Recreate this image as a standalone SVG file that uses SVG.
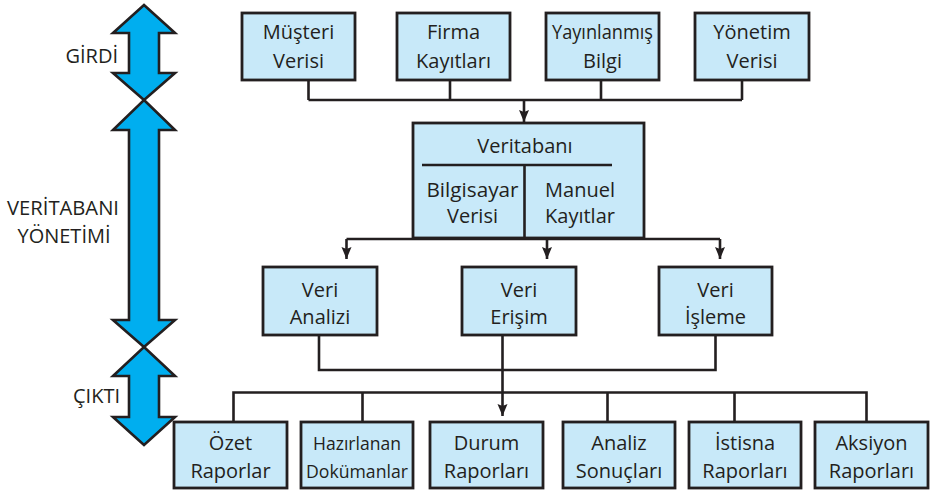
<svg xmlns="http://www.w3.org/2000/svg" width="939" height="495" viewBox="0 0 939 495">
<defs>
<style>
.box{fill:#c8e9f9;stroke:#231f20;stroke-width:2.8}
.t{font-family:"Open Sans","Noto Sans","DejaVu Sans",sans-serif;font-size:20px;fill:#231f20;text-anchor:middle}
.s{font-size:18px}
.lbl{font-family:"Open Sans","Noto Sans","DejaVu Sans",sans-serif;font-size:20px;fill:#231f20}
.c{fill:none;stroke:#231f20;stroke-width:2.6}
.ba{fill:#00aeef;stroke:#231f20;stroke-width:2.6;stroke-linejoin:miter}
</style>
<marker id="ah" markerUnits="userSpaceOnUse" markerWidth="14" markerHeight="12" refX="12" refY="5" orient="auto">
<path d="M0,0 L12,5 L0,10 L2,5 z" fill="#231f20"/>
</marker>
</defs>

<g id="side-arrows">
<path class="ba" d="M144,5 L175,33 L159,33 L159,73 L175,73 L144,100 L113,73 L129,73 L129,33 L113,33 Z"/>
<path class="ba" d="M144,100 L175,130 L159,130 L159,320 L175,320 L144,347 L113,320 L129,320 L129,130 L113,130 Z"/>
<path class="ba" d="M144,347 L175,376 L159,376 L159,417 L175,417 L144,445 L113,417 L129,417 L129,376 L113,376 Z"/>
</g>

<g id="side-labels">
<text class="lbl" x="118" y="63" text-anchor="end">GİRDİ</text>
<text class="lbl" x="63" y="215" text-anchor="middle" textLength="112" lengthAdjust="spacingAndGlyphs">VERİTABANI</text>
<text class="lbl" x="64" y="243" text-anchor="middle">YÖNETİMİ</text>
<text class="lbl" x="120" y="403" text-anchor="end">ÇIKTI</text>
</g>

<g id="connectors">
<path class="c" d="M308.5,80 V100 M450,80 V100 M601,80 V100 M742,80 V100 M308.5,100 H742"/>
<path class="c" d="M524,100 V122" marker-end="url(#ah)"/>
<path class="c" d="M346.5,239 H720"/>
<path class="c" d="M346.5,239 V259" marker-end="url(#ah)"/>
<path class="c" d="M547,239 V259" marker-end="url(#ah)"/>
<path class="c" d="M720,239 V259" marker-end="url(#ah)"/>
<path class="c" d="M319,335 V370 H715.5 V335"/>
<path class="c" d="M502.5,335 V416" marker-end="url(#ah)"/>
<path class="c" d="M233.5,421 V392.5 H866.5 V421 M362.5,392.5 V421 M607.5,392.5 V421 M734.5,392.5 V421"/>
</g>

<g id="musteri-verisi"><rect class="box" x="242" y="13" width="113" height="67"/><text class="t" x="298.5" y="39">Müşteri</text><text class="t" x="298.5" y="68">Verisi</text></g>
<g id="firma-kayitlari"><rect class="box" x="397" y="13" width="113" height="67"/><text class="t" x="453.5" y="39">Firma</text><text class="t" x="453.5" y="68">Kayıtları</text></g>
<g id="yayinlanmis-bilgi"><rect class="box" x="546" y="13" width="113" height="67"/><text class="t" x="602.5" y="39" textLength="101" lengthAdjust="spacingAndGlyphs">Yayınlanmış</text><text class="t" x="602.5" y="68">Bilgi</text></g>
<g id="yonetim-verisi"><rect class="box" x="695" y="13" width="114" height="67"/><text class="t" x="752" y="39">Yönetim</text><text class="t" x="752" y="68">Verisi</text></g>

<g id="veritabani">
<rect class="box" x="413" y="123" width="231" height="115"/>
<path class="c" d="M422,165 H612 M524.5,165 V238"/>
<text class="t" x="525" y="153">Veritabanı</text>
<text class="t" x="472.5" y="197" textLength="92" lengthAdjust="spacingAndGlyphs">Bilgisayar</text>
<text class="t" x="472.5" y="223">Verisi</text>
<text class="t" x="580" y="197">Manuel</text>
<text class="t" x="580" y="223">Kayıtlar</text>
</g>

<g id="veri-analizi"><rect class="box" x="263" y="267" width="114" height="68"/><text class="t" x="320" y="297">Veri</text><text class="t" x="320" y="324">Analizi</text></g>
<g id="veri-erisim"><rect class="box" x="462" y="267" width="114" height="68"/><text class="t" x="519" y="297">Veri</text><text class="t" x="519" y="324">Erişim</text></g>
<g id="veri-isleme"><rect class="box" x="659" y="267" width="113" height="68"/><text class="t" x="715.5" y="297">Veri</text><text class="t" x="715.5" y="324">İşleme</text></g>

<g id="ozet-raporlar"><rect class="box" x="174" y="422" width="113" height="66"/><text class="t" x="230.5" y="450">Özet</text><text class="t" x="230.5" y="478">Raporlar</text></g>
<g id="hazirlanan-dokumanlar"><rect class="box" x="301" y="422" width="112" height="66"/><text class="t s" x="357" y="450" textLength="88" lengthAdjust="spacingAndGlyphs">Hazırlanan</text><text class="t s" x="357" y="478" textLength="102" lengthAdjust="spacingAndGlyphs">Dokümanlar</text></g>
<g id="durum-raporlari"><rect class="box" x="430" y="422" width="113" height="66"/><text class="t" x="486.5" y="450">Durum</text><text class="t" x="486.5" y="478">Raporları</text></g>
<g id="analiz-sonuclari"><rect class="box" x="563" y="422" width="112" height="66"/><text class="t" x="619" y="450">Analiz</text><text class="t" x="619" y="478">Sonuçları</text></g>
<g id="istisna-raporlari"><rect class="box" x="689" y="422" width="112" height="66"/><text class="t" x="745" y="450">İstisna</text><text class="t" x="745" y="478">Raporları</text></g>
<g id="aksiyon-raporlari"><rect class="box" x="815" y="422" width="113" height="66"/><text class="t" x="871.5" y="450">Aksiyon</text><text class="t" x="871.5" y="478">Raporları</text></g>
</svg>
